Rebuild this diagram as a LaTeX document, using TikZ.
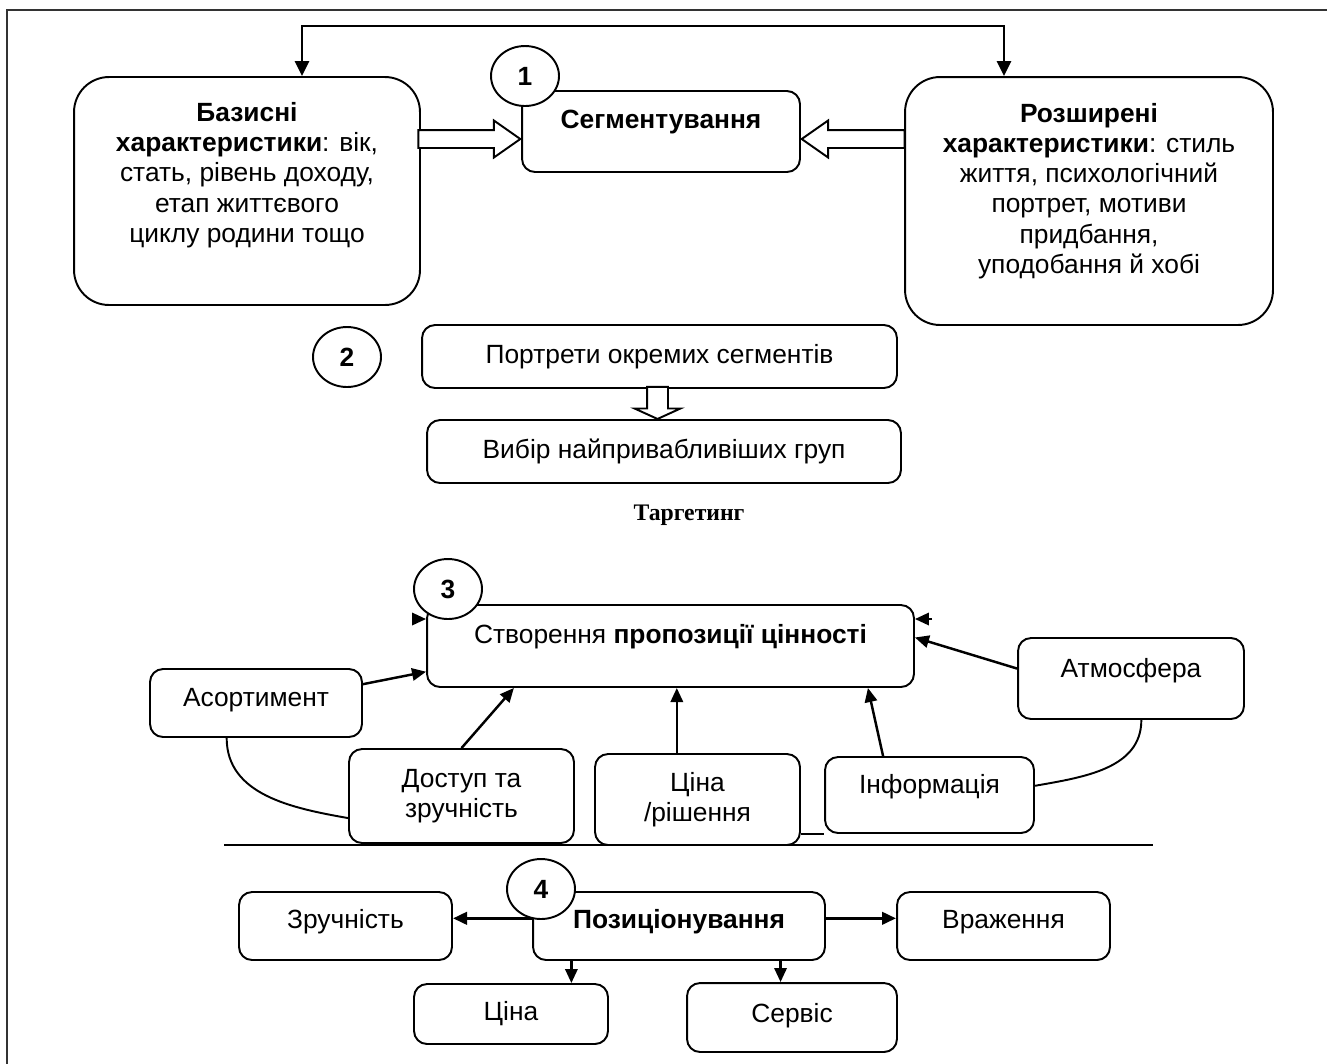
\documentclass[tikz,border=0pt]{standalone}
\usepackage{fontspec}
\setmainfont{Liberation Sans}
\newfontfamily\timesfont{Liberation Serif}
\usetikzlibrary{arrows.meta, positioning, shapes.geometric, shapes.arrows}

\begin{document}
\begin{tikzpicture}[x=0.02cm, y=-0.02cm, >={Triangle[length=8pt, width=7pt]},
  every node/.style={font=\fontsize{15}{17.2}\selectfont},
  bigbox/.style={draw, line width=1.1pt, rounded corners=0.7cm, inner sep=0pt},
  box/.style={draw, line width=1.1pt, rounded corners=0.26cm, inner sep=0pt, align=center},
  num/.style={draw, ellipse, line width=1.1pt, fill=white, minimum width=1.36cm, minimum height=1.2cm, inner sep=0pt, font=\fontsize{15}{17}\selectfont\bfseries},
  lift/.style={text height=10pt, text depth=#1},
  hollow/.style={single arrow, draw, fill=white, line width=1.1pt, inner xsep=0pt},
  link/.style={->, line width=1.4pt},
  thicklink/.style={->, line width=1.8pt},
  curve/.style={line width=1.1pt}]

\useasboundingbox (0,0) rectangle (1327,1063);
\draw[line width=1.3pt, black!80] (7,1075) -- (7,10) -- (1340,10);

% Segmentation (1)
\node[bigbox, minimum width=6.92cm, minimum height=4.56cm] (bas) at (247,191) {};
\node[align=center] (bastxt) at (247,175) {\textbf{Базисні}\\\textbf{характеристики}: вік,\\стать, рівень доходу,\\етап життєвого\\циклу родини тощо};
\node[bigbox, minimum width=7.36cm, minimum height=4.96cm] (roz) at (1089,201) {};
\node[align=center] (roztxt) at (1089,191) {\textbf{Розширені}\\\textbf{характеристики}: стиль\\життя, психологічний\\портрет, мотиви\\придбання,\\уподобання й хобі};
\node[box, minimum width=5.56cm, minimum height=1.62cm, lift=13pt] (seg) at (661,131.5) {\textbf{Сегментування}};
\node[num] (n1) at (525,76) {1};

\coordinate (loopL) at (302,26);
\coordinate (loopR) at (1004,26);
\draw[<->, line width=1.4pt, >={Triangle[length=8.5pt, width=8pt]}] (loopL |- bas.north) -- (loopL) -- (loopR) -- (loopR |- roz.north);

\node[hollow, anchor=tip, minimum height=2.04cm, inner ysep=0.16cm, single arrow head extend=0.19cm, single arrow tip angle=70] (hbas) at (522,139) {};
\node[hollow, anchor=tip, minimum height=2.06cm, inner ysep=0.16cm, single arrow head extend=0.19cm, single arrow tip angle=70, shape border rotate=180] (hroz) at (800,139) {};

% Targeting (2)
\node[num] (n2) at (347,357) {2};
\node[box, minimum width=9.5cm, minimum height=1.26cm] (port) at (659.5,356.5) {Портрети окремих сегментів};
\node[box, minimum width=9.48cm, minimum height=1.26cm] (vyb) at (664,451.5) {Вибір найпривабливіших груп};
\node[single arrow, draw, fill=white, line width=1.1pt, anchor=tip, minimum height=0.64cm, inner xsep=0.19cm, inner ysep=0pt, single arrow head extend=0.25cm, single arrow tip angle=131, shape border rotate=270] (hport) at (657.5,420) {};
\node[font=\fontsize{13.5}{15}\selectfont\timesfont\bfseries] (targ) at (689,515) {Таргетинг};

% Value proposition (3)
\node[box, minimum width=9.74cm, minimum height=1.64cm, lift=12.5pt] (cv) at (670.5,646) {Створення \textbf{пропозиції цінності}};
\node[num] (n3) at (448,589) {3};
\node[box, minimum width=4.24cm, minimum height=1.36cm, lift=5.7pt] (asort) at (256,703) {Асортимент};
\node[box, minimum width=4.5cm, minimum height=1.88cm] (dost) at (461.5,796) {Доступ та\\зручність};
\node[box, minimum width=4.1cm, minimum height=1.82cm] (cina) at (697.5,799.5) {Ціна\\/рішення};
\node[box, minimum width=4.18cm, minimum height=1.52cm, lift=11.4pt] (info) at (929.5,795) {Інформація};
\node[box, minimum width=4.52cm, minimum height=1.62cm, lift=11.4pt] (atm) at (1131,678.5) {Атмосфера};

\coordinate (tipL) at (413,619);
\coordinate (tipR) at (932,619);
\draw[link] (tipL) -- (tipL -| cv.west);
\draw[link] (tipR) -- (tipR -| cv.east);

\draw[link] (asort.10) -- (cv.186);
\draw[link] (dost.north) -- (cv.195);
\draw[link] (cina.114) -- (cina.114 |- cv.south);
\draw[link] (info.140) -- (cv.-12.5);
\draw[link] (atm.175) -- (cv.2);

\draw[curve] (asort.230) to[out=-90, in=170] (dost.191.5);
\draw[curve] (atm.284) to[out=-90, in=10] (info.5.5);
\draw[curve] (cina.east |- info.south west) -- (info.south west);

\coordinate (sepL) at (224,845);
\coordinate (sepR) at (1153,845);
\draw[line width=1.1pt] (sepL) -- (sepR);

% Positioning (4)
\node[box, minimum width=5.84cm, minimum height=1.36cm, lift=6.8pt] (pos) at (679,926) {\textbf{Позиціонування}};
\node[num] (n4) at (541,889) {4};
\node[box, minimum width=4.26cm, minimum height=1.36cm, lift=6.8pt] (zr) at (345.5,926) {Зручність};
\node[box, minimum width=4.26cm, minimum height=1.36cm, lift=6.8pt] (vr) at (1003.5,926) {Враження};
\node[box, minimum width=3.88cm, minimum height=1.2cm] (cn) at (511,1014) {Ціна};
\node[box, minimum width=4.2cm, minimum height=1.38cm, lift=4.5pt] (srv) at (792,1017.5) {Сервіс};

\draw[thicklink] (pos.177) -- (pos.177 -| zr.east);
\draw[thicklink] (pos.3) -- (pos.3 -| vr.west);
\draw[link] (pos.198) -- (pos.198 |- cn.north);
\draw[link] (pos.-19.3) -- (pos.-19.3 |- srv.north);

\end{tikzpicture}
\end{document}
